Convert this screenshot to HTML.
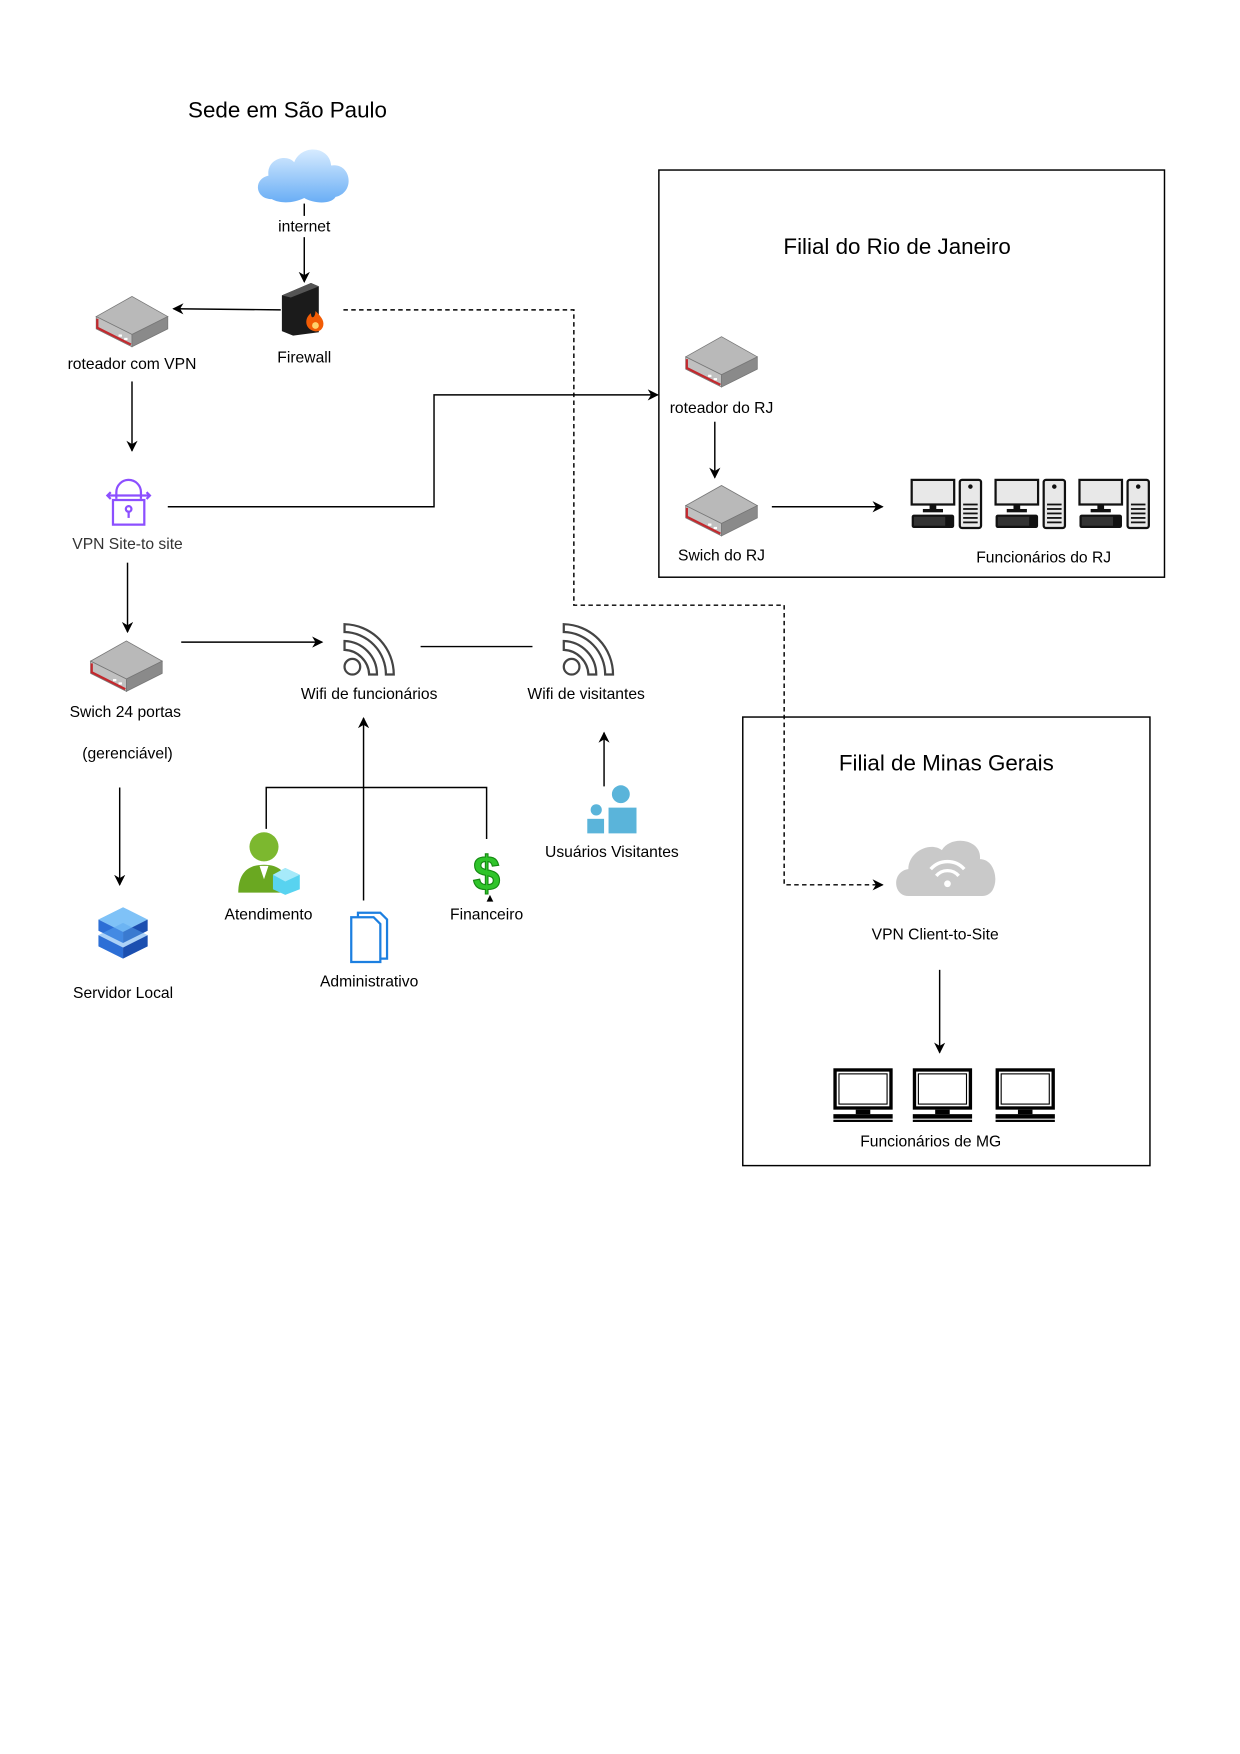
<!DOCTYPE html>
<html><head><meta charset="utf-8"><style>html,body{margin:0;padding:0;background:#fff}svg{display:block}text{font-family:"Liberation Sans",sans-serif}</style></head>
<body>
<svg width="1240" height="1754" viewBox="0 0 1108.5 1568" preserveAspectRatio="none" xmlns="http://www.w3.org/2000/svg">
<defs>
<marker id="a" markerWidth="10" markerHeight="10" refX="9" refY="5" orient="auto" markerUnits="userSpaceOnUse"><path d="M0,0 L10,5 L0,10 L3,5 z" fill="#000"/></marker>
<linearGradient id="cl" x1="0" y1="0" x2="0" y2="1"><stop offset="0" stop-color="#d6ebff"/><stop offset="1" stop-color="#6aaef5"/></linearGradient>
<g id="router">
<polygon points="0,18 32,0 64,18 32,34" fill="#b9b9b9" stroke="#777" stroke-width="0.7"/>
<polygon points="0,18 32,34 32,45 0,29" fill="#c0c0c0" stroke="#777" stroke-width="0.7"/>
<polygon points="32,34 64,18 64,29 32,45" fill="#8a8a8a" stroke="#777" stroke-width="0.7"/>
<polyline points="1,20 1,28 31,43" fill="none" stroke="#c3282d" stroke-width="2"/>
<rect x="20" y="34" width="3" height="2" fill="#fff"/><rect x="25" y="37" width="3" height="2" fill="#fff"/>
</g>
<g id="wifi" fill="none" stroke="#444" stroke-width="2">
<circle cx="9" cy="42" r="7"/>
<path d="M2,27 A23,23 0 0 1 24,49 L31,49 A30,30 0 0 0 2,19 Z"/>
<path d="M2,11 A38,38 0 0 1 39,49 L46,49 A45,45 0 0 0 2,4 Z"/>
</g>
<g id="pc">
<rect x="0" y="0" width="38" height="22" fill="#e8e8e8" stroke="#111" stroke-width="2"/>
<rect x="16" y="22" width="6" height="5" fill="#111"/><rect x="10" y="26" width="18" height="3" fill="#111"/>
<rect x="0" y="31" width="38" height="12" rx="2" fill="#111"/>
<rect x="2" y="33" width="28" height="8" fill="#333"/>
<rect x="43" y="0" width="19" height="43" rx="2" fill="#e8e8e8" stroke="#111" stroke-width="2"/>
<circle cx="52.5" cy="6" r="2" fill="#111"/>
<g stroke="#111" stroke-width="1.6"><line x1="46" y1="22" x2="59" y2="22"/><line x1="46" y1="26" x2="59" y2="26"/><line x1="46" y1="30" x2="59" y2="30"/><line x1="46" y1="34" x2="59" y2="34"/><line x1="46" y1="38" x2="59" y2="38"/></g>
</g>
<g id="mon">
<rect x="1.5" y="1.5" width="50" height="34" fill="#fff" stroke="#000" stroke-width="3"/>
<rect x="5" y="5" width="43" height="27" fill="#fff" stroke="#000" stroke-width="1"/>
<rect x="20" y="37" width="13" height="4" fill="#000"/>
<rect x="0" y="41" width="53" height="4" fill="#000"/><rect x="0" y="46" width="53" height="2" fill="#000"/>
</g>
</defs>

<text x="257" y="105" font-size="20" text-anchor="middle">Sede em São Paulo</text>
<path d="M243,178 C228,178 226,160 240,157 C238,142 256,137 263,145 C270,128 295,131 296,148 C314,145 318,172 300,176 C296,183 280,182 272,177 C262,182 250,182 243,178 Z" fill="url(#cl)"/>
<line x1="272" y1="182" x2="272" y2="193" stroke="#000" stroke-width="1.3"/>
<text x="272" y="207" font-size="14" text-anchor="middle">internet</text>
<line x1="272" y1="212" x2="272" y2="252" stroke="#000" stroke-width="1.3" marker-end="url(#a)"/>
<polygon points="252,264 278,253 285,256 285,297 262,300 252,296" fill="#1b1b1b"/>
<polygon points="252,264 278,253 285,256 260,266" fill="#555"/>
<path d="M281,296 C272,294 272,284 278,280 C278,286 282,284 282,278 C286,282 290,286 289,291 C288,295 285,297 281,296 Z" fill="#f25c05"/>
<circle cx="282" cy="291" r="3" fill="#ffd36b"/>
<text x="272" y="324" font-size="14" text-anchor="middle">Firewall</text>
<line x1="251" y1="277" x2="155" y2="276" stroke="#000" stroke-width="1.3" marker-end="url(#a)"/>
<use href="#router" x="86" y="265"/>
<text x="118" y="330" font-size="14" text-anchor="middle">roteador com VPN</text>
<line x1="118" y1="341" x2="118" y2="403" stroke="#000" stroke-width="1.3" marker-end="url(#a)"/>
<g fill="none" stroke="#8c4fff" stroke-width="2">
<path d="M104,446 L104,440 A11,11 0 0 1 126,440 L126,446"/>
<rect x="101" y="447" width="28" height="22"/>
<line x1="96" y1="443" x2="134" y2="443"/>
<path d="M99,440 L96,443 L99,446 M131,440 L134,443 L131,446"/>
<circle cx="115" cy="455" r="2.5"/><line x1="115" y1="457" x2="115" y2="463"/>
</g>
<text x="114" y="491" font-size="14" text-anchor="middle" fill="#333">VPN Site-to site</text>
<polyline points="150,453 388,453 388,353 588,353" fill="none" stroke="#000" stroke-width="1.3" marker-end="url(#a)"/>
<polyline points="307,277 513,277 513,541 701,541 701,791 789,791" fill="none" stroke="#000" stroke-width="1.3" stroke-dasharray="4,3" marker-end="url(#a)"/>
<line x1="114" y1="503" x2="114" y2="565" stroke="#000" stroke-width="1.3" marker-end="url(#a)"/>
<use href="#router" x="81" y="573"/>
<text x="112" y="641" font-size="14" text-anchor="middle">Swich 24 portas</text>
<text x="114" y="678" font-size="14" text-anchor="middle">(gerenciável)</text>
<line x1="162" y1="574" x2="288" y2="574" stroke="#000" stroke-width="1.3" marker-end="url(#a)"/>
<use href="#wifi" x="306" y="554"/>
<text x="330" y="625" font-size="14" text-anchor="middle">Wifi de funcionários</text>
<line x1="376" y1="578" x2="476" y2="578" stroke="#000" stroke-width="1.3"/>
<use href="#wifi" x="502" y="554"/>
<text x="524" y="625" font-size="14" text-anchor="middle">Wifi de visitantes</text>
<line x1="540" y1="703" x2="540" y2="655" stroke="#000" stroke-width="1.3" marker-end="url(#a)"/>
<circle cx="555" cy="710" r="8" fill="#5ab4da"/>
<path d="M544,722 L569,722 L569,745 L544,745 Z" fill="#5ab4da"/>
<circle cx="533" cy="724" r="5" fill="#5ab4da"/>
<rect x="525" y="732" width="15" height="13" fill="#5ab4da"/>
<text x="547" y="766" font-size="14" text-anchor="middle">Usuários Visitantes</text>
<line x1="107" y1="704" x2="107" y2="791" stroke="#000" stroke-width="1.3" marker-end="url(#a)"/>
<g>
<polygon points="88,822 110,811 132,822 110,833" fill="#7fc2f7"/>
<polygon points="88,822 110,833 110,843 88,832" fill="#2d6fd6"/><polygon points="110,833 132,822 132,832 110,843" fill="#1b4fb0"/>
<polygon points="88,836 110,847 110,857 88,846" fill="#2d6fd6"/><polygon points="110,847 132,836 132,846 110,857" fill="#1b4fb0"/>
<polygon points="88,836 110,825 132,836 110,847" fill="#5aa5f0" opacity="0.5"/>
</g>
<text x="110" y="892" font-size="14" text-anchor="middle">Servidor Local</text>
<polyline points="238,741 238,704 435,704 435,750" fill="none" stroke="#000" stroke-width="1.3"/>
<line x1="325" y1="805" x2="325" y2="642" stroke="#000" stroke-width="1.3" marker-end="url(#a)"/>
<circle cx="236" cy="757" r="13" fill="#7cb82f"/>
<path d="M213,798 C213,780 222,773 236,773 C250,773 258,780 258,798 Z" fill="#6aa821"/>
<polygon points="232,774 240,774 236,786" fill="#fff"/>
<polygon points="255,776 268,782 268,795 255,800 244,795 244,782" fill="#58d3f0"/>
<polygon points="244,782 255,788 268,782 255,776" fill="#a6eafa"/>
<text x="240" y="822" font-size="14" text-anchor="middle">Atendimento</text>
<g fill="#fff" stroke="#1c7fe0" stroke-width="2">
<path d="M320,816 L340,816 L346,822 L346,857 L320,857 Z"/>
<path d="M314,820 L334,820 L340,826 L340,860 L314,860 Z"/>
</g>
<text x="330" y="882" font-size="14" text-anchor="middle">Administrativo</text>
<text x="435" y="796" font-size="44" font-weight="bold" text-anchor="middle" fill="#2fc42a" stroke="#158a12" stroke-width="1">$</text>
<polygon points="435,806 441,806 438,800" fill="#000"/>
<text x="435" y="822" font-size="14" text-anchor="middle">Financeiro</text>

<rect x="589" y="152" width="452" height="364" fill="none" stroke="#000" stroke-width="1.3"/>
<text x="802" y="227" font-size="20" text-anchor="middle">Filial do Rio de Janeiro</text>
<use href="#router" x="613" y="301"/>
<text x="645" y="369" font-size="14" text-anchor="middle">roteador do RJ</text>
<line x1="639" y1="377" x2="639" y2="427" stroke="#000" stroke-width="1.3" marker-end="url(#a)"/>
<use href="#router" x="613" y="434"/>
<text x="645" y="501" font-size="14" text-anchor="middle">Swich do RJ</text>
<line x1="690" y1="453" x2="789" y2="453" stroke="#000" stroke-width="1.3" marker-end="url(#a)"/>
<use href="#pc" x="815" y="429"/><use href="#pc" x="890" y="429"/><use href="#pc" x="965" y="429"/>
<text x="933" y="503" font-size="14" text-anchor="middle">Funcionários do RJ</text>

<rect x="664" y="641" width="364" height="401" fill="none" stroke="#000" stroke-width="1.3"/>
<text x="846" y="689" font-size="20" text-anchor="middle">Filial de Minas Gerais</text>
<path d="M812,801 C798,801 797,779 812,777 C812,761 832,752 842,760 C850,746 878,750 876,768 C893,768 895,801 878,801 Z" fill="#c9c9c9"/>
<g fill="none" stroke="#fff" stroke-width="3"><path d="M832,777 A20,20 0 0 1 862,777"/><path d="M837,783 A13,13 0 0 1 857,783"/></g>
<circle cx="847" cy="790" r="3" fill="#fff"/>
<text x="836" y="840" font-size="14" text-anchor="middle">VPN Client-to-Site</text>
<line x1="840" y1="867" x2="840" y2="941" stroke="#000" stroke-width="1.3" marker-end="url(#a)"/>
<use href="#mon" x="745" y="955"/><use href="#mon" x="816" y="955"/><use href="#mon" x="890" y="955"/>
<text x="832" y="1025" font-size="14" text-anchor="middle">Funcionários de MG</text>
</svg>
</body></html>
